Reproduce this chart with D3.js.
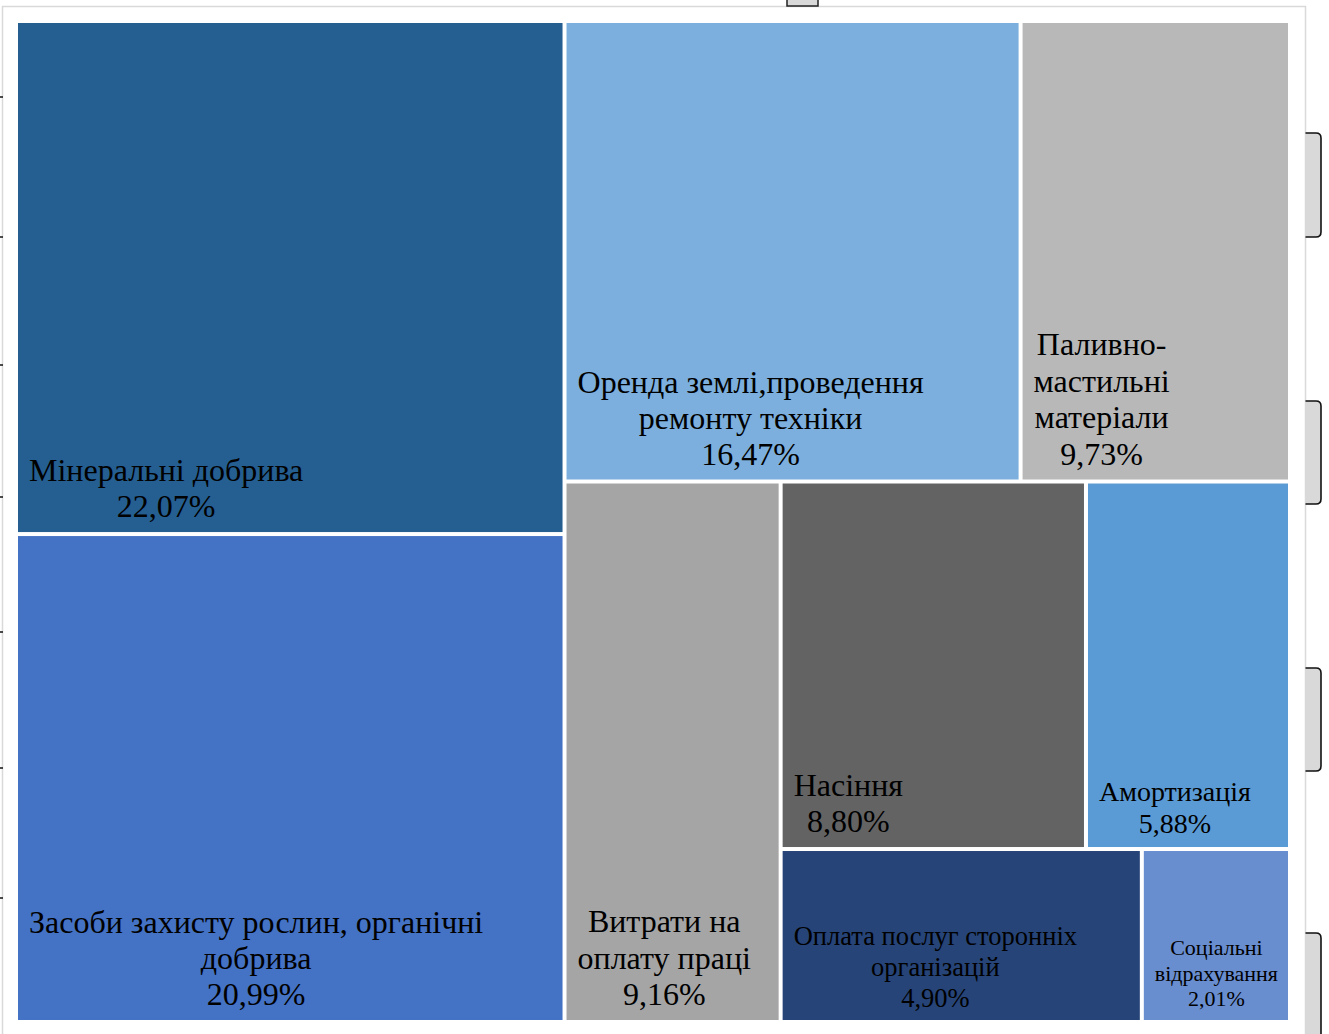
<!DOCTYPE html>
<html><head><meta charset="utf-8">
<script src="https://cdn.jsdelivr.net/npm/d3@7"></script>
<style>body{margin:0;background:#fff;overflow:hidden}</style></head>
<body><svg id="chart" width="1329" height="1034"></svg>
<script>
// ---- data ----
const categories = [
  "Мінеральні добрива",
  "Засоби захисту рослин, органічні добрива",
  "Оренда землі,проведення ремонту техніки",
  "Паливно-мастильні матеріали",
  "Витрати на оплату праці",
  "Насіння",
  "Амортизація",
  "Оплата послуг сторонніх організацій",
  "Соціальні відрахування"
];
const values = [22.07, 20.99, 16.47, 9.73, 9.16, 8.80, 5.88, 4.90, 2.01];
// nesting of the Excel-style tiling (group path of each category)
const groupPaths = [
  ["A"], ["A"],
  ["B","B1"], ["B","B1"],
  ["B","B2"],
  ["B","B2","C","C1"], ["B","B2","C","C1"],
  ["B","B2","C","C2"], ["B","B2","C","C2"]
];

// ---- styles ----
const colors = ["#255E91","#4472C4","#7CAFDD","#B8B8B8","#A5A5A5","#636363","#5B9BD5","#264478","#698ED0"];
const fontSizes   = [32, 32, 32, 32, 32, 32, 28, 26.5, 22];
const lineHeights = [36, 36, 36, 36.5, 36.5, 36, 32, 31, 25.5];
const bottomPads  = [15, 15, 15, 15, 15, 15, 14, 13, 14];
const FONT = "'Times New Roman','Liberation Serif',serif";

const svg = d3.select("#chart");

// ---- decorations (frame of the screenshot) ----
const deco = svg.append("g");
deco.append("path").attr("d","M2.5,1034 V6.5 H1305.5 V1034").attr("fill","none").attr("stroke","#d9d9d9").attr("stroke-width",1.5);
deco.append("rect").attr("x",787).attr("y",-2).attr("width",31).attr("height",8).attr("fill","#d9d9d9").attr("stroke","#222").attr("stroke-width",1.5);
[[133,237],[401,504],[668,771],[933,1045]].forEach(([a,b]) => {
  deco.append("path")
    .attr("d",`M1305.5,${a} H1316 Q1321,${a} 1321,${a+5} V${b-5} Q1321,${b} 1316,${b} H1305.5 Z`)
    .attr("fill","#d9d9d9").attr("stroke","none");
  deco.append("path")
    .attr("d",`M1305.5,${a} H1316 Q1321,${a} 1321,${a+5} V${b-5} Q1321,${b} 1316,${b} H1305.5`)
    .attr("fill","none").attr("stroke","#111").attr("stroke-width",1.6);
});
[97,237,365,497,632,768,898].forEach(y => {
  deco.append("line").attr("x1",0).attr("x2",3).attr("y1",y).attr("y2",y).attr("stroke","#111").attr("stroke-width",1.5);
});

// ---- hierarchy ----
const rootData = {name:"root", children:[]};
categories.forEach((name,i) => {
  let node = rootData;
  groupPaths[i].forEach(key => {
    let child = node.children.find(c => c.name === key);
    if (!child) { child = {name:key, children:[]}; node.children.push(child); }
    node = child;
  });
  node.children.push({name, value: values[i], idx: i});
});

const root = d3.hierarchy(rootData).sum(d => d.value || 0);
d3.treemap().tile(d3.treemapSliceDice).size([1270, 997]).paddingInner(4).round(false)(root);

const locale = d3.formatLocale({decimal:",", thousands:" ", grouping:[3], currency:["","%"]});
const fmt = v => locale.format(".2f")(v) + "%";

const g = svg.append("g").attr("transform","translate(18,23)");
const leaves = root.leaves();

const measurer = svg.append("text").attr("font-family",FONT).attr("visibility","hidden");
function textW(s, fs){ measurer.attr("font-size",fs).text(s); return measurer.node().getComputedTextLength(); }

function wrap(name, maxW, fs){
  const tokens = [];
  name.split(" ").forEach((w,wi) => {
    w.split(/(?<=-)/).forEach((p,pi) => tokens.push({t:p, space: wi>0 && pi===0}));
  });
  const lines = [];
  let cur = "";
  tokens.forEach(tok => {
    const cand = cur === "" ? tok.t : cur + (tok.space ? " " : "") + tok.t;
    if (cur !== "" && textW(cand, fs) > maxW) { lines.push(cur); cur = tok.t; }
    else cur = cand;
  });
  if (cur) lines.push(cur);
  return lines;
}

const cells = g.selectAll("g.cell").data(leaves).join("g").attr("class","cell");
cells.append("rect")
  .attr("x", d => d.x0).attr("y", d => d.y0)
  .attr("width", d => d.x1 - d.x0).attr("height", d => d.y1 - d.y0)
  .attr("fill", d => colors[d.data.idx]);

const pad = 11;
cells.each(function(d){
  const i = d.data.idx, fs = fontSizes[i];
  const lines = wrap(d.data.name, d.x1 - d.x0 - 2*pad, fs).concat([fmt(values[i])]);
  const blockW = d3.max(lines, l => textW(l, fs));
  const cx = d.x0 + pad + blockW/2;
  const lh = lineHeights[i];
  const last = d.y1 - bottomPads[i];
  const t = d3.select(this).append("text")
    .attr("font-family", FONT).attr("font-size", fs).attr("fill","#000")
    .attr("text-anchor","middle");
  lines.forEach((l,k) => {
    t.append("tspan").attr("x", cx).attr("y", last - (lines.length-1-k)*lh).text(l);
  });
});
measurer.remove();
</script>
</body></html>
